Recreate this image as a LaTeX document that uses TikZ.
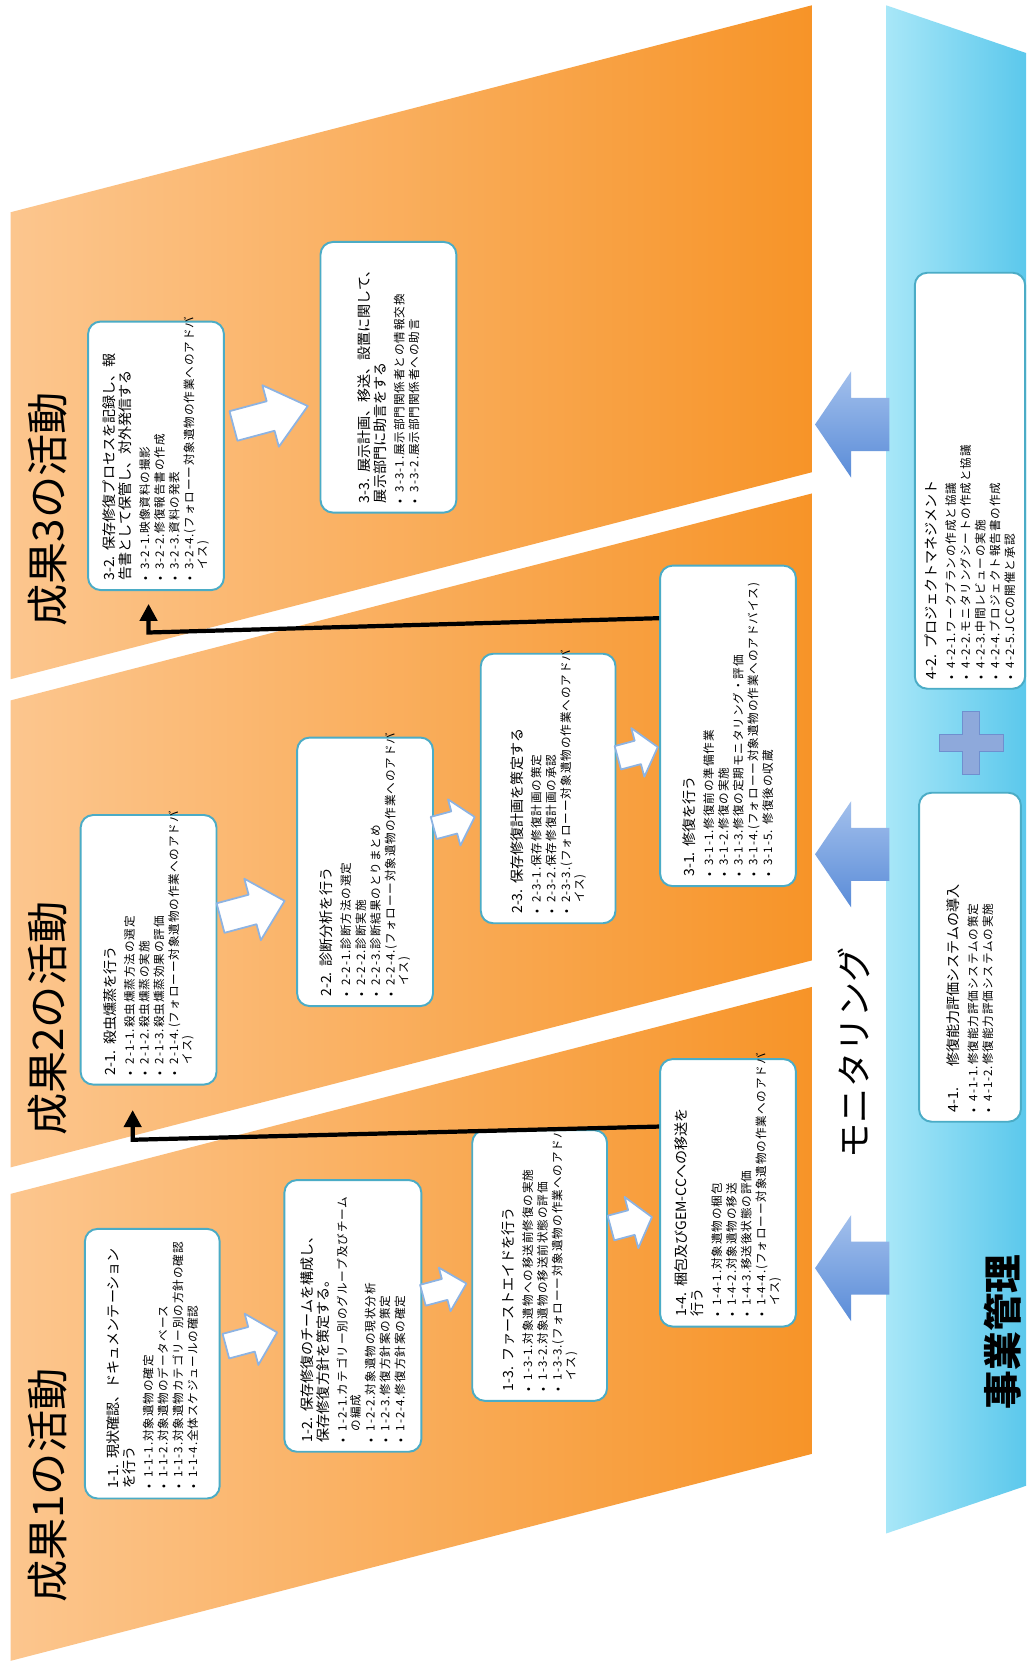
\documentclass[tikz,border=0pt]{standalone}
\usepackage{fontspec}
\setmainfont{Noto Sans CJK JP}
\newfontfamily\bulfont[LetterSpace=8]{Noto Sans CJK JP}
\usetikzlibrary{arrows.meta,calc,positioning}
\exhyphenpenalty=10000
\hyphenpenalty=10000

\definecolor{bandlight}{HTML}{FCC68E}
\definecolor{banddark}{HTML}{F79428}
\definecolor{mgmtlight}{HTML}{A8E7F8}
\definecolor{mgmtdark}{HTML}{5BC8EC}
\definecolor{boxline}{HTML}{4BACC6}
\definecolor{barrowtop}{HTML}{A3C0EC}
\definecolor{barrowbot}{HTML}{5A8CD8}
\definecolor{warrowline}{HTML}{8DB3E2}
\definecolor{plusfill}{HTML}{8EA9DB}
\definecolor{plusline}{HTML}{6F8FCF}

\newlength{\unitpx}
\setlength{\unitpx}{0.2122mm}

\newcommand{\ttl}[1]{{\fontsize{8pt}{9pt}\selectfont\noindent #1\par}\vspace{2.1pt}}
\newcommand{\itm}[1]{\vspace{0.8pt}{\bulfont\fontsize{6.6pt}{7.6pt}\selectfont\noindent\hangindent=0.95em\hangafter=1 \makebox[0.95em][l]{•}#1\par}}

\tikzset{
	band/.style={left color=bandlight, right color=banddark},
	mgmt/.style={left color=mgmtlight, right color=mgmtdark},
	task/.style={rotate=90, draw=boxline, line width=1.1pt, fill=white, rounded corners=2.5mm,
		inner xsep=9\unitpx, inner ysep=2\unitpx, align=left},
	tsize/.style 2 args={minimum width=#2\unitpx, minimum height=#1\unitpx, text width=#2\unitpx-18\unitpx},
	bandlabel/.style={rotate=90, font=\fontsize{24pt}{24pt}\selectfont},
	link/.style={line width=2.4pt, -{Triangle[length=3.4mm,width=3.4mm]}},
	whitearrow/.pic={\draw[fill=white, draw=warrowline, line width=1pt, line join=round]
		(-25,-12) -- (0,-12) -- (0,-25) -- (25,0) -- (0,25) -- (0,12) -- (-25,12) -- cycle;},
	bluearrow/.pic={\path[top color=barrowtop, bottom color=barrowbot]
		(0,0) -- (34,-50) -- (34,-25) -- (70,-25) -- (70,25) -- (34,25) -- (34,50) -- cycle;}
}

\begin{document}
\begin{tikzpicture}[x=0.2122mm,y=-0.2122mm]
	\fill[white] (0,0) rectangle (967,1568);
	\path[band] (10,200) -- (765,5) -- (765,445) -- (10,640) -- cycle;
	\path[band] (10,660) -- (765,465) -- (765,905) -- (10,1100) -- cycle;
	\path[band] (10,1125) -- (765,930) -- (765,1370) -- (10,1565) -- cycle;
	\path[mgmt] (835,5) -- (967,50) -- (967,1400) -- (835,1445) -- cycle;

	\node[bandlabel] (lab1) at (45,1400) {成果1の活動};
	\node[bandlabel] (lab2) at (45,960) {成果2の活動};
	\node[bandlabel] (lab3) at (45,480) {成果3の活動};
	\node[rotate=90, font=\fontsize{20pt}{20pt}\selectfont] (monit) at (805,992) {モニタリング};
	\node[rotate=90, font=\fontsize{22pt}{22pt}\selectfont\bfseries] (mgmtlab) at (945,1255) {事業管理};

	\pic at (768,400) {bluearrow};
	\pic at (768,805) {bluearrow};
	\pic at (768,1195) {bluearrow};
	\path[fill=plusfill, draw=plusline] (907,670) -- (923,670) -- (923,692) -- (945,692) -- (945,708)
		-- (923,708) -- (923,730) -- (907,730) -- (907,708) -- (885,708) -- (885,692) -- (907,692) -- cycle;

	\node[task, tsize={127}{254}] (box11) at (143.5,1285) {%
		\ttl{1-1.~現状確認、ドキュメンテーション\newline を行う}
		\itm{1-1-1.対象遺物の確定}
		\itm{1-1-2.対象遺物のデータベース}
		\itm{1-1-3.対象遺物カテゴリー別の方針の確認}
		\itm{1-1-4.全体スケジュールの確認}};
	\node[task, tsize={129}{256}] (box12) at (332.5,1240) {%
		\ttl{1-2.~保存修復のチームを構成し、\newline 保存修復方針を策定する。}
		\itm{1-2-1.カテゴリー別のグループ及びチーム\newline の編成}
		\itm{1-2-2.対象遺物の現状分析}
		\itm{1-2-3.修復方針案の策定}
		\itm{1-2-4.修復方針案の確定}};
	\node[task, tsize={127}{255}] (box13) at (508.5,1192.5) {%
		\ttl{1-3.~ファーストエイドを行う}
		\itm{1-3-1.対象遺物への移送前修復の実施}
		\itm{1-3-2.対象遺物の移送前状態の評価}
		\itm{1-3-3.(フォローー対象遺物の作業へのアドバ\newline イス)}};
	\node[task, tsize={128}{252}] (box14) at (686,1124) {%
		\ttl{1-4.~梱包及びGEM-CCへの移送を\newline 行う}
		\itm{1-4-1.対象遺物の梱包}
		\itm{1-4-2.対象遺物の移送}
		\itm{1-4-3.移送後状態の評価}
		\itm{1-4-4.(フォローー対象遺物の作業へのアドバ\newline イス)}};

	\node[task, tsize={128}{254}] (box21) at (140,895) {%
		\ttl{2-1.~殺虫燻蒸を行う}
		\itm{2-1-1.殺虫燻蒸方法の選定}
		\itm{2-1-2.殺虫燻蒸の実施}
		\itm{2-1-3.殺虫燻蒸効果の評価}
		\itm{2-1-4.(フォローー対象遺物の作業へのアドバ\newline イス)}};
	\node[task, tsize={128}{253}] (box22) at (344,821.5) {%
		\ttl{2-2.~診断分析を行う}
		\itm{2-2-1.診断方法の選定}
		\itm{2-2-2.診断実施}
		\itm{2-2-3.診断結果のとりまとめ}
		\itm{2-2-4.(フォローー対象遺物の作業へのアドバ\newline イス)}};
	\node[task, tsize={127}{254}] (box23) at (516.5,743) {%
		\ttl{2-3.~保存修復計画を策定する}
		\itm{2-3-1.保存修復計画の策定}
		\itm{2-3-2.保存修復計画の承認}
		\itm{2-3-3.(フォローー対象遺物の作業へのアドバ\newline イス)}};

	\node[task, tsize={128}{302}] (box31) at (686,684) {%
		\ttl{3-1.~修復を行う}
		\itm{3-1-1.修復前の準備作業}
		\itm{3-1-2.修復の実施}
		\itm{3-1-3.修復の定期モニタリング・評価}
		\itm{3-1-4.(フォローー対象遺物の作業へのアドバイス)}
		\itm{3-1-5.~修復後の収蔵}};
	\node[task, tsize={128}{253}] (box32) at (147,429.5) {%
		\ttl{3-2.~保存修復プロセスを記録し、報\newline 告書として保管し、対外発信する}
		\itm{3-2-1.映像資料の撮影}
		\itm{3-2-2.修復報告書の作成}
		\itm{3-2-3.資料の発表}
		\itm{3-2-4.(フォローー対象遺物の作業へのアドバ\newline イス)}};
	\node[task, tsize={128}{255}] (box33) at (366,355.5) {%
		\ttl{3-3.~展示計画、移送、設置に関して、\newline 展示部門に助言をする}
		\itm{3-3-1.展示部門関係者との情報交換}
		\itm{3-3-2.展示部門関係者への助言}};

	\node[task, tsize={104}{392}] (box42) at (914,453) {%
		\ttl{4-2.~プロジェクトマネジメント}
		\itm{4-2-1.ワークプランの作成と協議}
		\itm{4-2-2.モニタリングシートの作成と協議}
		\itm{4-2-3.中間レビューの実施}
		\itm{4-2-4.プロジェクト報告書の作成}
		\itm{4-2-5.JCCの開催と承認}};
	\node[task, tsize={96}{310}] (box41) at (914,902) {%
		\ttl{4-1.\hspace{4.2mm}修復能力評価システムの導入}
		\itm{4-1-1.修復能力評価システムの策定}
		\itm{4-1-2.修復能力評価システムの実施}};

	\pic[rotate=15] at (237,1262) {whitearrow};
	\pic[rotate=15, scale=0.85] at (419,1215) {whitearrow};
	\pic[rotate=15, xscale=0.8] at (595,1152) {whitearrow};
	\pic[rotate=15, xscale=1.25, yscale=1.2] at (238,857) {whitearrow};
	\pic[rotate=15, xscale=0.8, yscale=0.9] at (428,775) {whitearrow};
	\pic[rotate=15, xscale=0.78, yscale=0.95] at (601,709) {whitearrow};
	\pic[rotate=15, xscale=1.45, yscale=1.2] at (255,392) {whitearrow};

	\coordinate (bend1) at (125,1074);
	\coordinate (tip1) at (125,1046);
	\coordinate (bend2) at (140,596);
	\coordinate (tip2) at (140,569);
	\draw[link] ($(box14.north east)!0.254!(box14.north west)$) -- (bend1) -- (tip1);
	\draw[link] ($(box31.north east)!0.166!(box31.north west)$) -- (bend2) -- (tip2);
\end{tikzpicture}
\end{document}
